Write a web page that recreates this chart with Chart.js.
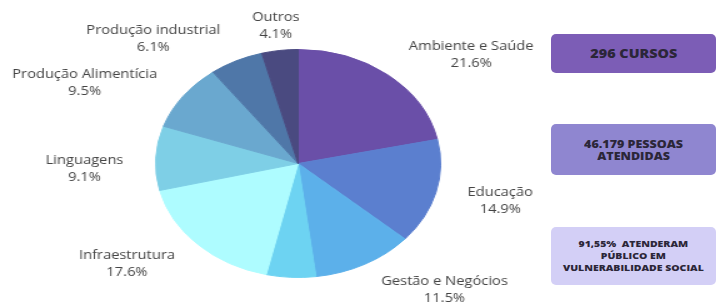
<!DOCTYPE html>
<html>
<head>
<meta charset="utf-8">
<script src="https://cdn.jsdelivr.net/npm/chart.js@4/dist/chart.umd.min.js"></script>
<style>
  html, body { margin: 0; padding: 0; background: #fff; }
  body { width: 718px; height: 303px; position: relative; overflow: hidden; font-family: "Open Sans", sans-serif; }
  #wrap { position: absolute; left: 0; top: 0; width: 432px; height: 303px; transform-origin: 0 0; transform: scaleX(1.25); }
  .box { position: absolute; left: 551px; width: 165px; border-radius: 5px; display: flex; align-items: center; justify-content: center; text-align: center; color: #2b2638; font-weight: 800; }
  .box span { display: inline-block; transform: scaleX(1.25); white-space: nowrap; }
</style>
</head>
<body>
<div id="wrap"><canvas id="c"></canvas></div>
<div class="box" style="top:34px;height:39px;background:#7c5db6;font-size:11.5px;line-height:14px;"><span>296 CURSOS</span></div>
<div class="box" style="top:124px;height:51px;background:#8f86d0;font-size:10px;line-height:12px;"><span>46.179 PESSOAS<br>ATENDIDAS</span></div>
<div class="box" style="top:227px;height:58px;background:#d3cff6;font-size:8.4px;line-height:12px;"><span>91,55%&nbsp; ATENDERAM<br>PÚBLICO EM<br>VULNERABILIDADE SOCIAL</span></div>
<script>
const categories = ["Ambiente e Saúde", "Educação", "Gestão e Negócios", "", "Infraestrutura", "Linguagens", "Produção Alimentícia", "Produção industrial", "Outros"];
const values = [21.6, 14.9, 11.5, 5.6, 17.6, 9.1, 9.5, 6.1, 4.1];
const colors = ["#6a4fa8", "#5b7fcf", "#5cb0ea", "#6dd3f2", "#aefcff", "#7ecfe6", "#6aa8cf", "#4f77a8", "#4a4a80"];

// label placement: angle nudge (deg) from slice middle and distance from centre
const labelPlacement = [
  {da: 13, d: 176}, {da: -1.5, d: 166}, {da: -15, d: 172}, null,
  {da: 9, d: 170}, {da: -4.6, d: 171}, {da: -10.8, d: 189}, {da: -17.2, d: 170}, {da: 0, d: 139}
];

const labelPlugin = {
  id: 'outLabels',
  afterDatasetsDraw(chart) {
    const ctx = chart.ctx;
    const meta = chart.getDatasetMeta(0);
    ctx.save();
    ctx.fillStyle = '#444444';
    ctx.font = '13px "Open Sans"';
    ctx.textAlign = 'center';
    ctx.textBaseline = 'middle';
    meta.data.forEach((arc, i) => {
      const p = labelPlacement[i];
      if (!p || !categories[i]) return;
      const mid = (arc.startAngle + arc.endAngle) / 2 + p.da * Math.PI / 180;
      const x = arc.x + Math.cos(mid) * p.d;
      const y = arc.y + Math.sin(mid) * p.d;
      ctx.save();
      ctx.translate(x, y);
      ctx.scale(0.904, 1);
      ctx.fillText(categories[i], 0, -8.5);
      ctx.fillText(values[i].toFixed(1) + '%', 0, 8.5);
      ctx.restore();
    });
    ctx.restore();
  }
};

new Chart(document.getElementById('c'), {
  type: 'pie',
  data: {
    labels: categories,
    datasets: [{
      data: values,
      backgroundColor: colors,
      borderColor: colors,
      borderWidth: 1,
      hoverOffset: 0
    }]
  },
  options: {
    responsive: true,
    maintainAspectRatio: false,
    animation: false,
    layout: { padding: { left: 124, right: 79, top: 49, bottom: 25 } },
    plugins: { legend: { display: false }, tooltip: { enabled: false } }
  },
  plugins: [labelPlugin]
});
</script>
</body>
</html>
